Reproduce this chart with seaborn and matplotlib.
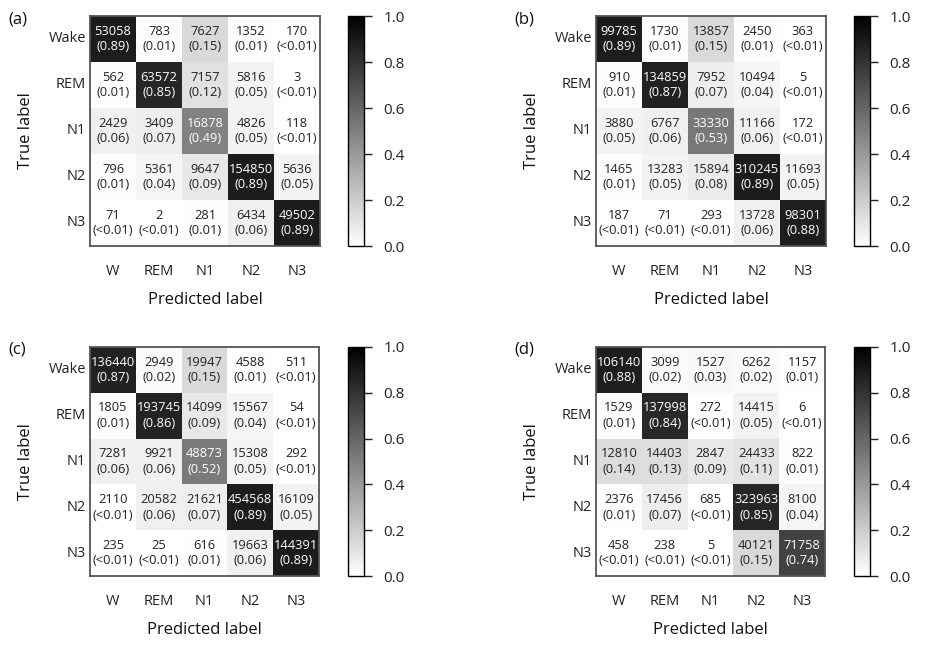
import numpy as np
import pandas as pd
import matplotlib
matplotlib.use("Agg")
import matplotlib.pyplot as plt
import seaborn as sns

true_labels = ["Wake", "REM", "N1", "N2", "N3"]
pred_labels = ["W", "REM", "N1", "N2", "N3"]
panel_tags = ["(a)", "(b)", "(c)", "(d)"]
cbar_ticks = [0.0, 0.2, 0.4, 0.6, 0.8, 1.0]

counts_a = [[53058, 783, 7627, 1352, 170],
            [562, 63572, 7157, 5816, 3],
            [2429, 3409, 16878, 4826, 118],
            [796, 5361, 9647, 154850, 5636],
            [71, 2, 281, 6434, 49502]]
frac_a = [[0.89, 0.01, 0.15, 0.01, 0.0],
          [0.01, 0.85, 0.12, 0.05, 0.0],
          [0.06, 0.07, 0.49, 0.05, 0.0],
          [0.01, 0.04, 0.09, 0.89, 0.05],
          [0.0, 0.0, 0.01, 0.06, 0.89]]

counts_b = [[99785, 1730, 13857, 2450, 363],
            [910, 134859, 7952, 10494, 5],
            [3880, 6767, 33330, 11166, 172],
            [1465, 13283, 15894, 310245, 11693],
            [187, 71, 293, 13728, 98301]]
frac_b = [[0.89, 0.01, 0.15, 0.01, 0.0],
          [0.01, 0.87, 0.07, 0.04, 0.0],
          [0.05, 0.06, 0.53, 0.06, 0.0],
          [0.01, 0.05, 0.08, 0.89, 0.05],
          [0.0, 0.0, 0.0, 0.06, 0.88]]

counts_c = [[136440, 2949, 19947, 4588, 511],
            [1805, 193745, 14099, 15567, 54],
            [7281, 9921, 48873, 15308, 292],
            [2110, 20582, 21621, 454568, 16109],
            [235, 25, 616, 19663, 144391]]
frac_c = [[0.87, 0.02, 0.15, 0.01, 0.0],
          [0.01, 0.86, 0.09, 0.04, 0.0],
          [0.06, 0.06, 0.52, 0.05, 0.0],
          [0.0, 0.06, 0.07, 0.89, 0.05],
          [0.0, 0.0, 0.01, 0.06, 0.89]]

counts_d = [[106140, 3099, 1527, 6262, 1157],
            [1529, 137998, 272, 14415, 6],
            [12810, 14403, 2847, 24433, 822],
            [2376, 17456, 685, 323963, 8100],
            [458, 238, 5, 40121, 71758]]
frac_d = [[0.88, 0.02, 0.03, 0.02, 0.01],
          [0.01, 0.84, 0.0, 0.05, 0.0],
          [0.14, 0.13, 0.09, 0.11, 0.01],
          [0.01, 0.07, 0.0, 0.85, 0.04],
          [0.0, 0.0, 0.0, 0.15, 0.74]]

panels = [(counts_a, frac_a), (counts_b, frac_b), (counts_c, frac_c), (counts_d, frac_d)]

sns.set_style("white")
plt.rcParams["font.family"] = ["Open Sans", "DejaVu Sans"]

W, H = 937, 653
fig = plt.figure(figsize=(W / 100, H / 100), dpi=100)

# (left, top, size) in pixels
boxes = [(90, 16, 230), (596, 16, 230), (90, 347, 229), (596, 347, 229)]


def fmt_frac(v):
    return "(<0.01)" if v < 0.01 else f"({v:.2f})"


for (counts, frac), (left, top, size), tag in zip(panels, boxes, panel_tags):
    ax = fig.add_axes([left / W, 1 - (top + size) / H, size / W, size / H])
    cax = fig.add_axes([(left + 258) / W, 1 - (top + size) / H, 16 / W, size / H])
    fr = pd.DataFrame(frac, index=true_labels, columns=pred_labels)
    annot = np.array([[f"{c}\n{fmt_frac(f)}" for c, f in zip(cr, fr_)]
                      for cr, fr_ in zip(counts, frac)])
    sns.heatmap(fr, ax=ax, cbar_ax=cax, cmap="gray_r", vmin=0, vmax=1,
                annot=annot, fmt="", square=False,
                annot_kws={"fontsize": 9.3, "linespacing": 1.25},
                cbar_kws={"ticks": cbar_ticks})
    # text colour: white on dark cells
    for t, v in zip(ax.texts, np.array(frac).ravel()):
        t.set_color("white" if v > 0.4 else "#222222")
    for sp in ax.spines.values():
        sp.set_visible(True)
        sp.set_color("#555555")
        sp.set_linewidth(1.3)
    ax.tick_params(axis="both", length=0, labelsize=10.5, colors="#222222")
    ax.tick_params(axis="y", pad=3, rotation=0)
    ax.tick_params(axis="x", pad=13)
    ax.set_xlabel("Predicted label", fontsize=12, color="#111111")
    ax.set_ylabel("True label", fontsize=12, color="#111111")
    ax.xaxis.set_label_coords(0.5, -0.2)
    ax.yaxis.set_label_coords(-0.245, 0.5)

    cbar = ax.collections[0].colorbar
    cbar.outline.set_edgecolor("black")
    cbar.outline.set_linewidth(1.0)
    cax.tick_params(axis="y", length=6, width=1, direction="out", pad=8,
                    labelsize=11, colors="#222222")
    cax.set_yticklabels([f"{t:.1f}" for t in cbar_ticks])

    fig.text((left - 82) / W, 1 - (top + 3) / H, tag, fontsize=12,
             ha="left", va="center", color="#111111")

fig.savefig("out.png", dpi=100, facecolor="white")
